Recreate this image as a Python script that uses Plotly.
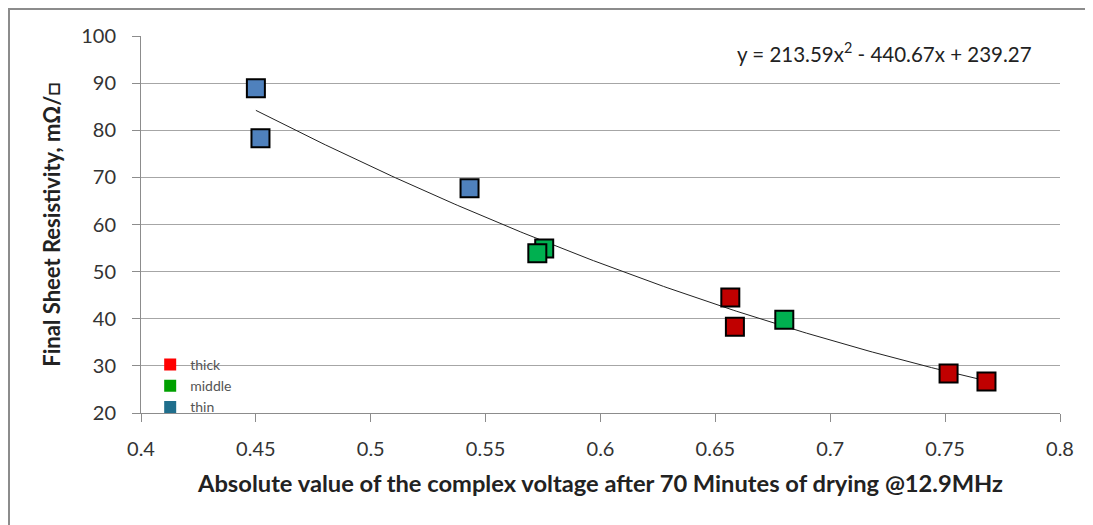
import numpy as np
import plotly.graph_objects as go

# Data
thin_x = [0.450, 0.452, 0.543]
thin_y = [88.9, 78.3, 67.7]
middle_x = [0.5755, 0.5725, 0.680]
middle_y = [54.9, 53.9, 39.8]
thick_x = [0.6565, 0.6585, 0.7515, 0.768]
thick_y = [44.5, 38.3, 28.4, 26.7]
fit_coef = [213.59, -440.67, 239.27]
x_ticks = [0.4, 0.45, 0.5, 0.55, 0.6, 0.65, 0.7, 0.75, 0.8]
y_ticks = [20, 30, 40, 50, 60, 70, 80, 90, 100]
legend_names = ["thick", "middle", "thin"]
legend_colors = ["#FF0000", "#00A000", "#1F6E8C"]

FONT = "Lato, Open Sans, sans-serif"
W, H = 1093, 525
L, R, T, B = 133, 41, 28, 120

fig = go.Figure()

all_x = thin_x + middle_x + thick_x
fx = np.linspace(min(all_x), max(all_x), 200)
fy = np.polyval(fit_coef, fx)
fig.add_trace(go.Scatter(x=fx, y=fy, mode="lines",
                         line=dict(color="#222222", width=1),
                         showlegend=False, hoverinfo="skip"))

def mk(xs, ys, color):
    fig.add_trace(go.Scatter(x=xs, y=ys, mode="markers", showlegend=False,
                             marker=dict(symbol="square", size=18, color=color,
                                         line=dict(color="black", width=2))))

mk(thin_x, thin_y, "#4F81BD")
mk(middle_x, middle_y, "#00B050")
mk(thick_x, thick_y, "#C00000")

for n, c in zip(legend_names, legend_colors):
    fig.add_trace(go.Scatter(x=[None], y=[None], mode="markers", name=n,
                             marker=dict(symbol="square", size=12, color=c)))

fig.update_layout(
    width=W, height=H,
    margin=dict(l=L, r=R, t=T, b=B),
    paper_bgcolor="white", plot_bgcolor="white",
    font=dict(family=FONT, color="#333333"),
    showlegend=True,
    legend=dict(x=0.01, y=0.17, xanchor="left", yanchor="top",
                bgcolor="rgba(0,0,0,0)", font=dict(size=14, color="#555555"),
                itemsizing="trace", tracegroupgap=0),
    xaxis=dict(range=[0.4, 0.8], tickvals=x_ticks,
               ticktext=[f"{v:g}" for v in x_ticks],
               showgrid=False, zeroline=False,
               showline=True, linecolor="#8c8c8c", linewidth=1,
               ticks="outside", ticklen=8, tickcolor="#8c8c8c",
               ticklabelstandoff=10,
               tickfont=dict(size=20, color="#333333"),
               title=dict(text="<b>Absolute value of the complex voltage after 70 Minutes of drying @12.9MHz</b>",
                          font=dict(size=23.7, color="#222222"), standoff=16)),
    yaxis=dict(range=[20, 100], tickvals=y_ticks,
               showgrid=True, gridcolor="#a6a6a6", gridwidth=1, zeroline=False,
               showline=True, linecolor="#8c8c8c", linewidth=1,
               ticks="outside", ticklen=8, tickcolor="#8c8c8c",
               ticklabelstandoff=12,
               tickfont=dict(size=20, color="#333333"),
               title=dict(text="<b>Final Sheet Resistivity, mΩ/□</b>",
                          font=dict(size=22, color="#222222"), standoff=14)),
    annotations=[dict(xref="paper", yref="paper", x=0.972, y=0.955,
                      xanchor="right", yanchor="middle", showarrow=False,
                      text="y = 213.59x<sup>2</sup> - 440.67x + 239.27",
                      font=dict(size=20.5, color="#222222"))],
)

pw = W - L - R
ph = H - T - B
def px2paper_x(p):
    return (p - L) / pw
def px2paper_y(p):
    return 1 - (p - T) / ph

fig.add_shape(type="line", xref="paper", yref="paper",
              x0=px2paper_x(0), x1=px2paper_x(W + 5), y0=px2paper_y(1), y1=px2paper_y(1),
              line=dict(color="#8c8c8c", width=2), layer="above")
fig.add_shape(type="line", xref="paper", yref="paper",
              x0=px2paper_x(1), x1=px2paper_x(1), y0=px2paper_y(0), y1=px2paper_y(H + 5),
              line=dict(color="#8c8c8c", width=2), layer="above")

fig.write_html("out.html")
